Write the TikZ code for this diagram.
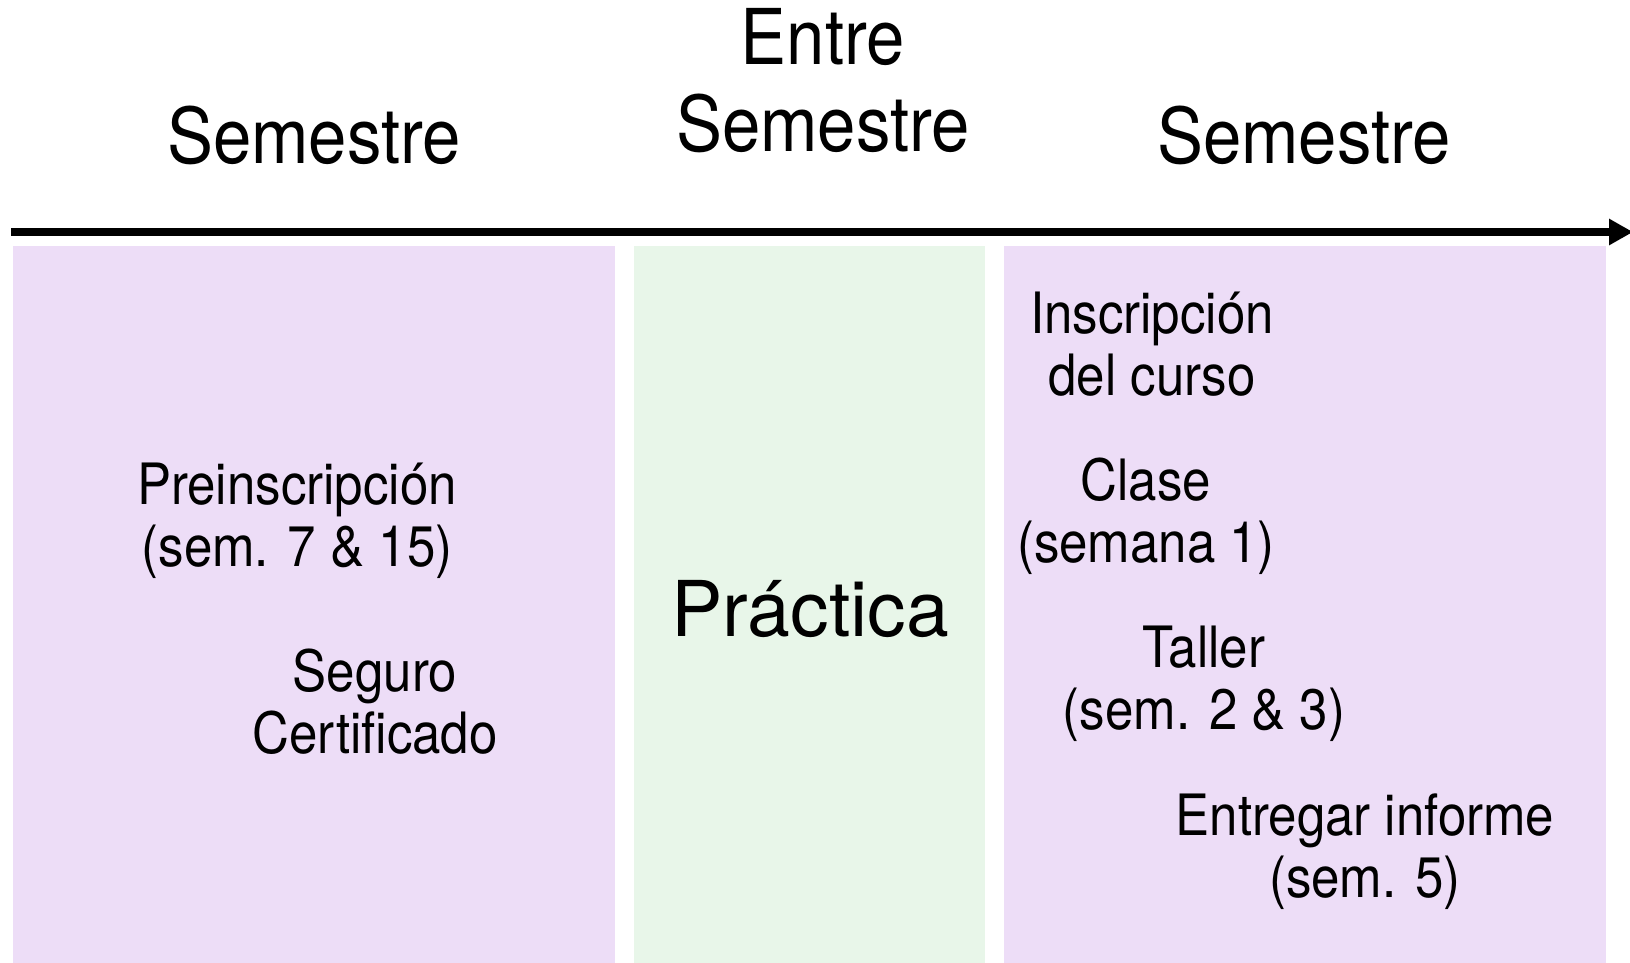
\documentclass[tikz,border=0pt]{standalone}
\usepackage{fontspec}
\setmainfont{TeX Gyre Heros}
\newfontfamily\hdfont{TeX Gyre Heros}[FakeStretch=0.895]
\usetikzlibrary{arrows.meta}
\definecolor{lav}{RGB}{237,221,247}
\definecolor{mint}{RGB}{232,246,233}
\newcommand{\ml}[1]{\begin{tabular}[t]{@{}c@{}}#1\end{tabular}}
\begin{document}
\begin{tikzpicture}[x=1pt,y=-1pt,
  head/.style={inner sep=0pt,anchor=base,font=\hdfont\fontsize{77}{87}\selectfont},
  body/.style={inner sep=0pt,anchor=base,font=\hdfont\fontsize{57}{62.4}\selectfont},
  big/.style={inner sep=0pt,anchor=base,font=\fontsize{77}{87}\selectfont}]
\useasboundingbox (0,0) rectangle (1630,963);
% panels
\fill[lav]  (13,246) rectangle (615,963);
\fill[mint] (634,246) rectangle (985,963);
\fill[lav]  (1004,246) rectangle (1606,963);
% timeline
\coordinate (tstart) at (11,232);
\coordinate (tend) at (1633,232);
\draw[line width=8pt,-{Triangle[length=24pt,width=25pt]}] (tstart) -- (tend);
% headers
\node[head] (h1) at (314,163) {Semestre};
\node[head] (h2) at (823,64.5) {\ml{Entre\\Semestre}};
\node[head] (h3) at (1304,163) {Semestre};
% left panel
\node[body] (pre) at (297,504) {\ml{Preinscripción\\(sem. 7 \& 15)}};
\node[body] (seg) at (375,691) {\ml{Seguro\\Certificado}};
% middle
\node[big] (prac) at (810,636) {Práctica};
% right panel
\node[body] (ins) at (1152,333) {\ml{Inscripción\\del curso}};
\node[body] (cla) at (1146,500) {\ml{Clase\\(semana 1)}};
\node[body] (tal) at (1204,667) {\ml{Taller\\(sem. 2 \& 3)}};
\node[body] (inf) at (1365,835) {\ml{Entregar informe\\(sem. 5)}};
\end{tikzpicture}
\end{document}
